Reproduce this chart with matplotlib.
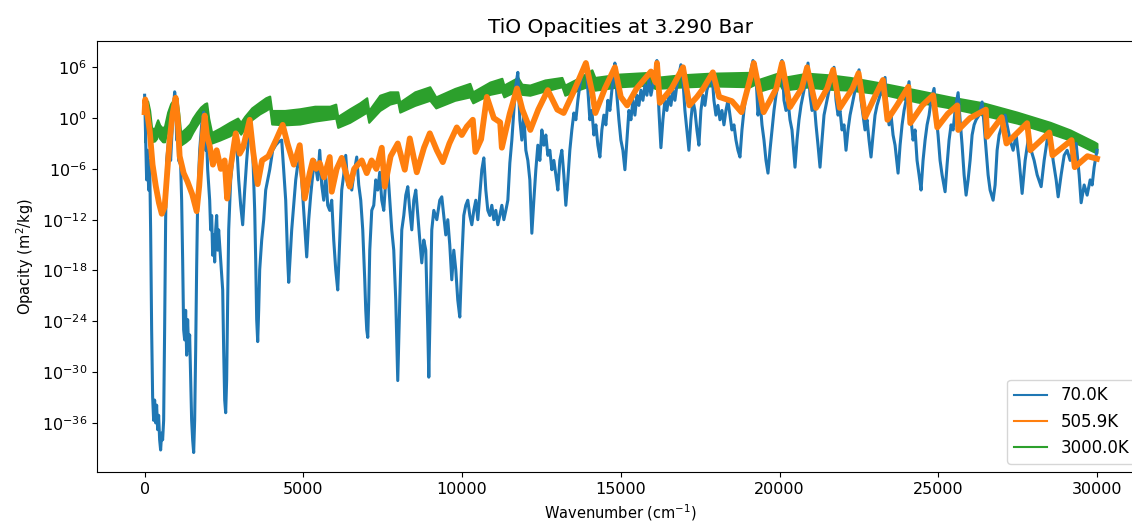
import numpy as np
import matplotlib
matplotlib.use('Agg')
import matplotlib.pyplot as plt
from matplotlib.lines import Line2D
from matplotlib.ticker import NullLocator

# TiO opacity spectra
# (wavenumber in cm^-1, log10 of opacity in m^2/kg)

# 70.0K curve
spec_70 = [(0,2.7),(32,-2.6),(63,-7.3),(95,-3.8),(126,-8.5),(158,-5.0),(189,-13.2),(221,-25.0),(252,-32.9),(284,-35.7),
    (315,-33.3),(347,-36.0),(378,-33.9),(410,-36.8),(441,-35.1),(473,-38.0),(504,-39.2),(536,-37.2),(567,-38.0),(599,-35.7),
    (630,-25.0),(662,-12.0),(693,-5.0),(756,-2.6),(819,-5.0),(882,-0.2),(946,3.1),(977,2.1),(1009,-2.6),(1040,-0.6),
    (1072,-5.0),(1135,-5.5),(1166,-9.7),(1198,-16.8),(1229,-25.0),(1261,-26.2),(1292,-22.7),(1324,-28.0),(1355,-23.8),(1387,-27.4),
    (1418,-25.6),(1450,-30.9),(1481,-35.7),(1513,-38.0),(1545,-39.5),(1576,-35.7),(1608,-27.4),(1639,-17.6),(1671,-9.7),(1734,-3.8),
    (1797,-0.8),(1860,0.7),(1891,-1.4),(1923,-3.8),(1954,-2.6),(1986,-6.1),(2049,-9.7),(2080,-13.2),(2112,-11.5),(2143,-16.2),
    (2175,-13.8),(2206,-17.0),(2238,-13.2),(2269,-11.5),(2301,-15.6),(2332,-13.2),(2395,-16.8),(2459,-20.3),(2490,-27.4),(2522,-33.3),
    (2553,-34.8),(2584,-30.9),(2616,-21.5),(2648,-13.2),(2711,-7.3),(2774,-5.0),(2837,-3.2),(2900,-3.0),(2963,-7.3),(3026,-10.3),
    (3089,-12.6),(3152,-8.5),(3215,-5.0),(3278,-2.0),(3341,-0.6),(3404,-3.8),(3467,-10.9),(3499,-16.8),(3530,-23.8),(3562,-26.4),
    (3593,-22.7),(3625,-17.9),(3688,-14.4),(3751,-12.0),(3814,-8.5),(3877,-7.3),(3940,-6.1),(4034,-3.8),(4129,-3.2),(4224,-2.8),
    (4318,-2.6),(4381,-6.1),(4444,-9.7),(4507,-16.8),(4539,-19.4),(4570,-17.4),(4633,-13.2),(4696,-10.3),(4760,-7.3),(4823,-5.5),
    (4886,-5.0),(4949,-7.3),(5012,-10.9),(5075,-14.4),(5106,-16.4),(5169,-12.0),(5232,-9.1),(5295,-6.7),(5358,-5.0),(5453,-7.3),
    (5516,-3.8),(5579,-7.9),(5642,-9.7),(5705,-6.7),(5768,-10.3),(5831,-10.9),(5894,-9.7),(5957,-14.4),(6020,-17.9),(6083,-20.3),
    (6146,-14.4),(6209,-8.5),(6272,-6.7),(6335,-4.4),(6398,-7.9),(6462,-7.3),(6525,-8.5),(6588,-6.7),(6682,-4.6),(6745,-7.9),
    (6808,-9.7),(6871,-13.2),(6934,-19.1),(6966,-22.7),(6997,-25.0),(7029,-25.9),(7060,-21.5),(7092,-15.6),(7155,-10.9),(7218,-10.3),
    (7281,-7.3),(7344,-8.5),(7407,-6.4),(7470,-9.7),(7533,-10.9),(7596,-7.3),(7659,-6.1),(7722,-9.7),(7785,-13.2),(7848,-15.6),
    (7911,-21.5),(7974,-31.0),(8038,-21.5),(8101,-13.2),(8164,-11.5),(8227,-9.1),(8290,-8.1),(8353,-10.9),(8416,-13.2),(8479,-9.7),
    (8542,-8.5),(8605,-11.5),(8668,-14.4),(8731,-17.1),(8794,-14.4),(8857,-15.6),(8920,-25.0),(8952,-30.6),(8983,-25.0),(9046,-13.2),
    (9109,-10.9),(9204,-12.0),(9298,-9.7),(9361,-9.3),(9424,-11.5),(9487,-13.8),(9550,-12.0),(9613,-15.0),(9676,-19.1),(9739,-15.6),
    (9802,-17.9),(9865,-21.5),(9928,-23.5),(9991,-16.8),(10054,-11.5),(10117,-10.3),(10180,-9.7),(10244,-11.5),(10307,-12.6),(10370,-10.9),
    (10433,-9.7),(10496,-12.0),(10559,-9.1),(10622,-6.1),(10685,-4.7),(10748,-8.5),(10811,-10.9),(10874,-11.5),(10937,-10.3),(11000,-12.0),
    (11063,-10.9),(11126,-12.6),(11190,-11.5),(11253,-10.3),(11316,-12.0),(11379,-10.9),(11442,-9.7),(11505,-5.3),(11568,-2.6),(11631,0.9),
    (11694,3.9),(11757,5.4),(11820,-0.2),(11883,-2.6),(11946,0.35),(12009,-3.8),(12072,-5.0),(12135,-7.3),(12198,-13.6),(12261,-9.7),
    (12324,-6.1),(12387,-3.2),(12450,-5.0),(12513,-1.4),(12576,-3.2),(12639,-2.0),(12702,-4.4),(12765,-3.8),(12828,-6.1),(12891,-5.0),
    (12954,-6.7),(13017,-8.5),(13080,-5.0),(13143,-3.8),(13206,-6.7),(13269,-10.3),(13332,-7.3),(13395,-3.8),(13458,-1.4),(13522,0.6),
    (13585,-0.2),(13648,2.1),(13711,3.9),(13806,5.7),(13900,6.6),(13963,3.3),(14026,-0.2),(14089,0.9),(14152,-2.0),(14215,-0.8),
    (14278,-3.2),(14341,-4.6),(14404,-1.4),(14467,0.35),(14530,-0.8),(14593,2.1),(14656,0.9),(14719,3.3),(14782,5.1),(14814,6.5),
    (14877,2.7),(14940,-0.2),(15003,-2.6),(15066,-3.8),(15130,-6.1),(15193,-2.6),(15256,0.9),(15319,-0.2),(15382,2.1),(15445,0.35),
    (15508,2.7),(15571,1.5),(15634,3.3),(15697,2.1),(15760,3.9),(15823,2.7),(15886,4.5),(15949,2.7),(16012,3.9),(16075,5.1),
    (16138,6.8),(16201,0.9),(16264,-3.5),(16327,-0.2),(16390,2.1),(16453,0.9),(16516,2.7),(16579,1.5),(16642,3.3),(16705,2.1),
    (16768,3.9),(16831,5.1),(16894,6.3),(16957,4.5),(17020,0.9),(17083,-1.4),(17146,-3.8),(17209,-0.2),(17272,2.1),(17335,0.9),
    (17398,-1.4),(17461,-3.2),(17524,0.9),(17587,2.7),(17650,1.5),(17713,3.3),(17808,4.5),(17871,5.3),(17934,2.1),(17997,0.35),
    (18060,1.5),(18124,-0.2),(18187,0.9),(18250,-0.8),(18313,0.9),(18376,2.1),(18439,0.35),(18502,-1.4),(18565,-0.8),(18628,-2.6),
    (18691,-3.8),(18754,-4.6),(18817,-1.4),(18880,0.9),(18943,2.7),(19006,3.9),(19069,5.1),(19164,6.8),(19258,5.1),(19322,0.35),
    (19385,2.1),(19448,-0.8),(19511,-2.6),(19574,-5.0),(19637,-6.5),(19700,-3.8),(19763,-1.4),(19826,0.9),(19889,2.7),(19952,3.9),
    (20015,5.7),(20078,6.8),(20141,2.1),(20204,0.9),(20267,2.1),(20330,-0.2),(20393,-1.4),(20488,-5.8),(20551,-2.6),(20614,-0.2),
    (20677,1.5),(20740,2.7),(20803,3.9),(20898,6.5),(20961,2.7),(21024,0.9),(21087,2.1),(21150,-0.8),(21213,-3.2),(21276,-5.8),
    (21339,-2.6),(21402,0.35),(21465,1.5),(21528,2.7),(21591,3.9),(21717,6.0),(21780,2.1),(21843,0.35),(21906,0.9),(21969,-1.4),
    (22032,-0.8),(22095,-3.8),(22158,-1.4),(22222,0.35),(22285,1.5),(22379,3.3),(22505,5.7),(22568,2.1),(22631,0.35),(22694,-1.4),
    (22757,-0.2),(22820,-2.6),(22883,-4.6),(22946,-2.0),(23009,0.35),(23072,1.5),(23167,2.7),(23325,4.8),(23388,0.9),(23451,-0.8),
    (23514,0.35),(23577,-2.0),(23640,-3.2),(23735,-6.5),(23798,-3.2),(23861,-0.8),(23924,0.9),(23987,2.1),(24081,4.3),(24144,-0.2),
    (24207,-2.6),(24270,-1.4),(24333,-5.0),(24396,-6.7),(24459,-8.5),(24522,-5.0),(24586,-2.6),(24649,-0.8),(24712,0.35),(24775,2.1),
    (24869,3.5),(24932,0.35),(24995,-2.0),(25058,-5.0),(25121,-6.7),(25216,-8.7),(25279,-5.5),(25342,-2.6),(25405,-0.8),(25468,-1.4),
    (25531,0.9),(25626,3.0),(25689,-0.2),(25752,-3.2),(25815,-6.7),(25878,-9.1),(25941,-7.3),(26004,-5.0),(26067,-2.0),(26130,-0.8),
    (26193,-0.2),(26287,0.35),(26382,1.9),(26445,-0.8),(26508,-3.8),(26571,-6.7),(26634,-8.5),(26729,-9.7),(26792,-7.9),(26855,-3.8),
    (26918,-2.0),(27013,-0.8),(27107,0.35),(27202,-1.4),(27265,-2.6),(27359,-3.8),(27454,-2.0),(27548,-5.0),(27643,-8.9),(27738,-5.0),
    (27832,-2.6),(27927,-3.8),(28021,-5.0),(28116,-6.7),(28242,-8.1),(28337,-5.0),(28431,-2.6),(28526,-2.2),(28620,-5.0),(28715,-7.3),
    (28778,-9.3),(28872,-6.7),(28967,-4.4),(29061,-3.8),(29156,-5.0),(29250,-3.8),(29345,-3.0),(29439,-6.7),(29502,-10.0),(29597,-7.9),
    (29691,-9.1),(29786,-7.3),(29849,-7.9),(29912,-5.8),(30000,-3.8)]

# 505.9K curve
spec_506 = [(0,0.7),(20,2.2),(80,0.6),(160,-1.5),(250,-5.5),(350,-8.0),(450,-10.0),(540,-11.3),(630,-10.5),(700,-7.0),
    (790,-2.5),(880,0.5),(977,2.4),(1040,0.0),(1103,-4.5),(1230,-6.5),(1350,-7.5),(1500,-9.0),(1639,-11.0),(1720,-8.0),
    (1800,-3.5),(1891,0.3),(1960,-2.0),(2050,-3.3),(2150,-5.5),(2270,-3.8),(2400,-6.0),(2520,-5.0),(2600,-9.5),(2700,-6.0),
    (2870,-1.8),(2994,-4.2),(3100,-3.5),(3310,-0.2),(3420,-4.0),(3560,-7.8),(3700,-5.0),(3900,-4.5),(4150,-2.5),(4350,-0.8),
    (4500,-3.0),(4700,-5.5),(4886,-3.2),(5043,-9.5),(5200,-6.5),(5300,-5.0),(5400,-6.0),(5516,-5.3),(5650,-7.0),(5831,-4.6),
    (5894,-8.7),(6050,-6.0),(6209,-4.7),(6462,-8.1),(6600,-6.0),(6840,-5.0),(6997,-6.5),(7150,-5.0),(7300,-6.0),(7470,-3.5),
    (7565,-8.1),(7750,-4.5),(7974,-3.0),(8195,-6.1),(8353,-2.4),(8573,-6.4),(8800,-3.5),(8983,-1.8),(9204,-3.8),(9393,-5.2),
    (9600,-3.0),(9834,-1.1),(9991,-2.0),(10150,-1.0),(10338,-0.2),(10420,-4.0),(10600,-2.5),(10780,2.5),(11000,0.0),(11200,-0.5),
    (11253,-3.5),(11500,0.5),(11730,3.5),(11900,1.0),(12150,-1.4),(12400,1.0),(12700,3.3),(13000,1.0),(13200,0.6),(13500,3.0),
    (13900,6.5),(14100,3.0),(14200,0.6),(14500,3.5),(14815,6.0),(15000,2.5),(15200,1.5),(15500,3.5),(15950,5.5),(16100,4.2),
    (16140,6.5),(16230,1.8),(16600,3.5),(16960,6.0),(17160,1.5),(17400,2.5),(17600,3.5),(17900,5.4),(18100,2.5),(18500,2.0),
    (18800,0.7),(19100,5.0),(19190,6.5),(19500,0.7),(19900,3.5),(20080,6.5),(20330,1.3),(20700,3.5),(20870,6.0),(21150,1.2),
    (21500,3.5),(21690,5.7),(21900,1.2),(22300,3.5),(22490,5.3),(22700,0.1),(23000,2.5),(23260,4.5),(23400,-0.2),(23700,1.5),
    (24060,3.7),(24120,-0.6),(24500,1.5),(24840,2.7),(24970,-1.1),(25300,0.5),(25600,1.5),(25630,-1.4),(26000,0.0),(26500,1.0),
    (26540,-2.2),(27000,0.1),(27150,-3.0),(27800,-0.6),(27900,-3.8),(28500,-1.7),(28600,-4.4),(29200,-2.6),(29300,-5.8),(29700,-4.5),
    (30000,-4.8)]

# 3000.0K curve: dense band, upper and lower edge
wn_3000 = [0, 30, 95, 158, 220, 315, 378, 410, 473, 567, 630, 725, 820, 914, 1009, 1072, 1135, 1292, 1418, 1513,
           1639, 1765, 1891, 1954, 2017, 2112, 2364, 2679, 2931, 3026, 3152, 3373, 3625, 3814, 3940, 4003, 4413, 4886,
           5358, 5831, 6020, 6083, 6462, 6777, 6997, 7060, 7407, 7722, 7974, 8038, 8510, 8983, 9172, 9771, 10244, 10338,
           10874, 11253, 11316, 11757, 11883, 12136, 12608, 13144, 13238, 13711, 14089, 14184, 14972, 15918, 16076,
           16864, 17809, 19070, 19228, 19291, 20015, 20110, 20866, 21591, 22222, 23262, 24333, 25374, 26414, 27485,
           28525, 29156, 29912, 30000]
hi_3000 = [2.1, 2.1, 2.0, 0.9, -1.2, -1.2, -0.5, -0.2, -0.8, -1.2, -0.9, 0.7, 1.7, 2.2, 2.4, 0.7, -1.7, -1.2, -0.7, 0.0,
           0.7, 1.3, 1.7, 1.8, 0.0, -1.7, -1.2, -0.5, 0.0, -0.5, 0.2, 1.2, 1.9, 2.4, 2.6, 0.9, 0.9, 1.1,
           1.4, 1.4, 1.65, 0.2, 1.1, 1.8, 2.4, 0.9, 2.7, 3.1, 3.1, 1.9, 3.1, 3.7, 2.5, 3.5, 4.1, 3.1,
           4.25, 4.7, 3.9, 4.8, 4.0, 3.9, 4.5, 4.8, 3.9, 4.8, 5.7, 4.8, 5.2, 5.4, 4.8,
           5.1, 5.3, 5.4, 5.4, 4.5, 5.4, 4.8, 5.3, 5.1, 4.8, 4.1, 3.3, 2.5, 1.8, 0.7,
           -0.5, -1.4, -2.8, -3.0]
lo_3000 = [-2.8, 1.2, 0.7, -2.8, -2.8, -2.7, -2.4, -1.7, -2.4, -2.8, -2.8, -1.2, 0.2, 0.9, 1.2, -3.2, -3.2, -2.8, -2.4, -1.7,
           -0.9, -0.2, 0.5, 0.7, -2.95, -2.95, -2.6, -2.1, -1.4, -1.9, -1.2, -0.2, 0.5, 0.9, 1.2, -0.7, -0.8, -0.7,
           -0.35, -0.1, 0.0, -1.1, -0.5, 0.2, 0.7, -0.5, 0.9, 1.65, 1.9, 0.7, 1.5, 2.1, 1.2, 2.1, 2.5, 1.8,
           2.8, 3.1, 2.5, 3.3, 2.8, 2.7, 3.2, 3.7, 2.7, 3.4, 3.9, 3.3, 3.7, 3.9, 3.5,
           3.66, 3.8, 3.7, 4.0, 3.1, 3.9, 3.3, 3.66, 3.4, 3.3, 2.8, 1.9, 1.2, 0.35, -0.6,
           -1.8, -2.6, -4.0, -4.1]

labels = ['70.0K', '505.9K', '3000.0K']
colors = ['#1f77b4', '#ff7f0e', '#2ca02c']

wn_70 = np.array([p[0] for p in spec_70])
k_70 = 10.0 ** np.array([p[1] for p in spec_70])
wn_506 = np.array([p[0] for p in spec_506])
k_506 = 10.0 ** np.array([p[1] for p in spec_506])
wn_3000 = np.array(wn_3000)

fig = plt.figure(figsize=(11.32, 5.24), dpi=100)
ax = fig.add_axes([0.0857, 0.0992, 0.9254, 0.8225])

ax.plot(wn_70, k_70, color=colors[0], lw=2.2)
ax.plot(wn_506, k_506, color=colors[1], lw=4.2)
ax.fill_between(wn_3000, 10.0 ** np.array(lo_3000), 10.0 ** np.array(hi_3000),
                color=colors[2], lw=1.5, edgecolor=colors[2])

ax.set_yscale('log')
ax.set_xlim(-1500, 31500)
ax.set_ylim(10 ** -41.8, 10 ** 9.1)
ax.set_yticks(10.0 ** np.arange(-36, 7, 6))
ax.yaxis.set_minor_locator(NullLocator())
ax.tick_params(labelsize=11.5)

ax.set_title('TiO Opacities at 3.290 Bar', fontsize=14.5)
ax.set_xlabel('Wavenumber (cm$^{-1}$)', fontsize=10.5)
ax.set_ylabel('Opacity (m$^2$/kg)', fontsize=10.5)

handles = [Line2D([0], [0], color=c, lw=1.5) for c in colors]
ax.legend(handles, labels, loc='lower right', fontsize=12)

fig.savefig('out.png', dpi=100)
